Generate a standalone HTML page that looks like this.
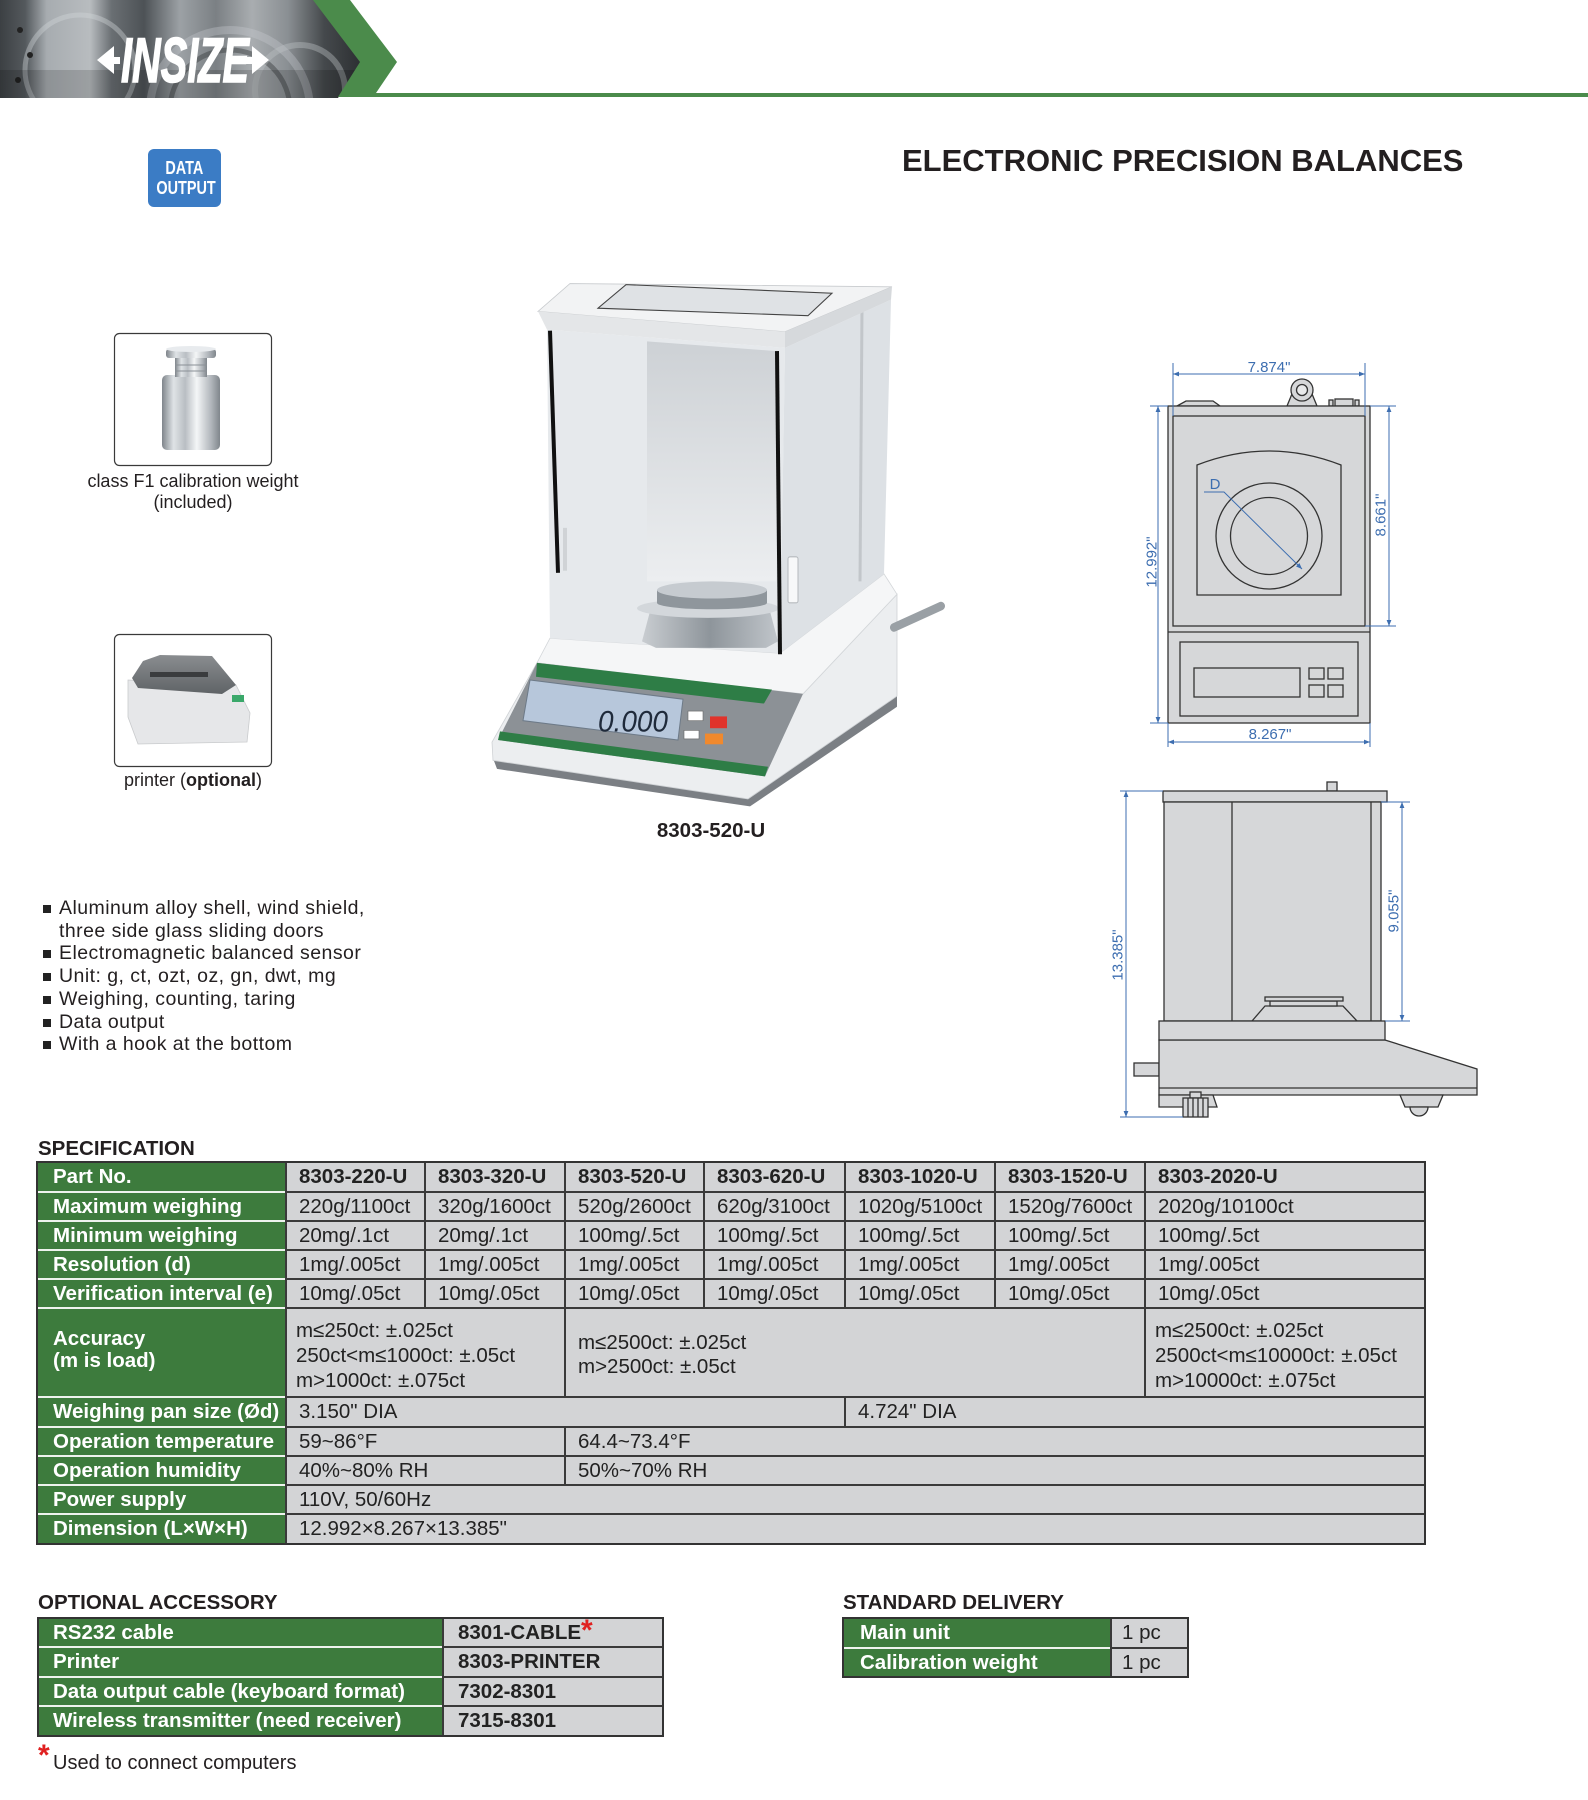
<!DOCTYPE html>
<html><head><meta charset="utf-8">
<style>
html,body{margin:0;padding:0;background:#fff}
body{width:1588px;height:1800px;position:relative;overflow:hidden;font-family:"Liberation Sans",Arial,sans-serif;color:#231f20}
.t{position:absolute;white-space:nowrap}
.g{position:absolute;white-space:nowrap;color:#fff;font-weight:bold;font-size:20.5px}
.c{position:absolute;white-space:nowrap;color:#222;font-size:20.5px}
.b{font-weight:bold}
.hl{position:absolute;height:2px;background:#3a3a3a}
.wl{position:absolute;height:2px;background:#eef3ee}
.vl{position:absolute;width:2px;background:#3a3a3a}
.sq{position:absolute;left:43px;width:8px;height:8px;background:#222}
.bl{position:absolute;left:59px;font-size:19.5px;letter-spacing:.45px;line-height:22.7px;white-space:nowrap;color:#231f20}
</style></head><body>

<svg width="1588" height="1800" style="position:absolute;left:0;top:0" xmlns="http://www.w3.org/2000/svg">
<defs>
<marker id="ar" viewBox="0 0 10 10" refX="10" refY="5" markerWidth="8" markerHeight="6" orient="auto-start-reverse" markerUnits="userSpaceOnUse"><path d="M0,1 L10,5 L0,9 z" fill="#3d6eb0"/></marker>
<clipPath id="ph"><polygon points="0,0 314,0 361,62 338,98 0,98"/></clipPath>
<linearGradient id="bg1" x1="0" y1="0" x2="360" y2="0" gradientUnits="userSpaceOnUse">
<stop offset="0" stop-color="#3c4043"/><stop offset="0.07" stop-color="#54595d"/><stop offset="0.13" stop-color="#a7acb0"/><stop offset="0.25" stop-color="#b8bcbf"/><stop offset="0.31" stop-color="#6a6f73"/><stop offset="0.4" stop-color="#4d5256"/><stop offset="0.5" stop-color="#9ca1a5"/><stop offset="0.6" stop-color="#7b8084"/><stop offset="0.7" stop-color="#a9adb0"/><stop offset="0.8" stop-color="#8a8f93"/><stop offset="0.9" stop-color="#45494c"/><stop offset="1" stop-color="#2d3033"/>
</linearGradient>
<linearGradient id="wg" x1="0" x2="1" y1="0" y2="0">
<stop offset="0" stop-color="#7f858b"/><stop offset="0.2" stop-color="#dfe3e6"/><stop offset="0.4" stop-color="#b9bec3"/><stop offset="0.6" stop-color="#f4f6f7"/><stop offset="0.85" stop-color="#b0b5ba"/><stop offset="1" stop-color="#80868c"/>
</linearGradient>
<linearGradient id="bp" x1="0" y1="0" x2="0" y2="1">
<stop offset="0" stop-color="#cdd1d5"/><stop offset="1" stop-color="#eceef0"/>
</linearGradient>
<linearGradient id="cone" x1="0" x2="1" y1="0" y2="0">
<stop offset="0" stop-color="#c9cdd1"/><stop offset="0.5" stop-color="#8e959b"/><stop offset="1" stop-color="#c0c5ca"/>
</linearGradient>
<linearGradient id="prt" x1="0" x2="0" y1="0" y2="1">
<stop offset="0" stop-color="#8a8d90"/><stop offset="1" stop-color="#5f6366"/>
</linearGradient>
</defs>

<!-- banner -->
<g clip-path="url(#ph)">
<rect x="0" y="0" width="370" height="100" fill="url(#bg1)"/>
<circle cx="80" cy="70" r="55" fill="none" stroke="#d3d6d9" stroke-width="5" opacity=".4"/>
<circle cx="230" cy="110" r="80" fill="none" stroke="#c9ccd0" stroke-width="8" opacity=".35"/>
<circle cx="230" cy="110" r="60" fill="none" stroke="#3f4346" stroke-width="5" opacity=".5"/>
<circle cx="300" cy="90" r="45" fill="none" stroke="#bfc3c6" stroke-width="6" opacity=".4"/>
<circle cx="20" cy="30" r="3" fill="#222"/><circle cx="30" cy="55" r="3" fill="#222"/><circle cx="18" cy="80" r="3" fill="#222"/>
<rect x="0" y="70" width="370" height="30" fill="#000" opacity=".15"/>
</g>
<polygon points="313,0 350,0 397,62 376,93 1588,93 1588,97 338,97 360,62" fill="#4b8b4b"/>
<!-- logo -->
<text x="121" y="82" textLength="128" lengthAdjust="spacingAndGlyphs" font-family="Liberation Sans, Arial, sans-serif" font-size="63" font-weight="bold" font-style="italic" fill="#fff" stroke="#fff" stroke-width="1.5">INSIZE</text>
<polygon points="97,60 114,46 114,74" fill="#fff"/>
<rect x="112" y="57" width="8" height="7" fill="#fff"/>
<polygon points="269,60 252,46 252,74" fill="#fff"/>
<rect x="246" y="57" width="8" height="7" fill="#fff"/>

<!-- weight box -->
<rect x="114.5" y="333.5" width="157" height="132" rx="5" fill="#fff" stroke="#3a3a3a" stroke-width="1.2"/>
<rect x="162" y="375" width="58" height="75" rx="5" fill="url(#wg)"/>
<rect x="175" y="358" width="32" height="19" fill="url(#wg)"/>
<line x1="175" y1="365" x2="207" y2="365" stroke="#8a9096" stroke-width="1"/>
<line x1="175" y1="371" x2="207" y2="371" stroke="#8a9096" stroke-width="1"/>
<rect x="166" y="349" width="50" height="9" rx="3" fill="url(#wg)"/>
<ellipse cx="191" cy="349" rx="25" ry="3" fill="#e8ebee"/>

<!-- printer box -->
<rect x="114.5" y="634.5" width="157" height="132" rx="5" fill="#fff" stroke="#3a3a3a" stroke-width="1.2"/>
<polygon points="128,680 236,685 250,713 247,742 138,744 128,717" fill="#e6e7e9" stroke="#c9cbcd" stroke-width=".8"/>
<polygon points="132,678 143,661 160,655 212,656 236,685 222,694 138,688" fill="url(#prt)"/>
<rect x="150" y="672" width="58" height="5" fill="#3a3c3e"/>
<rect x="232" y="695" width="12" height="7" fill="#3aa86a"/>

<!-- product -->
<g transform="translate(0,260) scale(1,1.0714) translate(0,-260)">
<polygon points="493,725 748,761 897,666 897,677 750,770 497,735" fill="#7b7f84"/>
<polygon points="537,636 803,665 897,572 897,667 748,763 493,727 492,710" fill="#eceef0" stroke="#cfd2d5" stroke-width=".8"/>
<polygon points="550,613 780,627 884,553 897,572 803,665 537,636" fill="#f5f6f7" stroke="#d3d6d9" stroke-width=".8"/>
<polygon points="547,325 785,342 780,627 550,613" fill="#e6e9ec"/>
<polygon points="647,336 776,345 776,560 647,560" fill="url(#bp)"/>
<polygon points="785,342 891,297 884,553 780,627" fill="#dde1e5"/>
<line x1="862" y1="306" x2="860" y2="560" stroke="#c2c6ca" stroke-width="3"/>
<polygon points="650,588 770,588 778,616 766,622 656,622 642,616" fill="url(#cone)"/>
<ellipse cx="708" cy="585" rx="71" ry="9" fill="#d3d7db"/>
<rect x="657" y="568" width="110" height="12" fill="#8f969c"/>
<ellipse cx="712" cy="580" rx="55" ry="6" fill="#8f969c"/>
<ellipse cx="712" cy="568" rx="55" ry="8" fill="#c6cbd0"/>
<line x1="550" y1="326" x2="558" y2="552" stroke="#111" stroke-width="4"/>
<line x1="777" y1="345" x2="780" y2="628" stroke="#111" stroke-width="4"/>
<rect x="788" y="537" width="10" height="43" rx="2" fill="#f7f8f9" stroke="#b5b9bd" stroke-width="1"/>
<rect x="563" y="510" width="4" height="40" fill="#d0d3d6"/>
<!-- lid -->
<polygon points="538,308 570,282 892,285 785,327" fill="#f2f3f4" stroke="#c8cbce" stroke-width=".8"/>
<polygon points="598,305 626,283 832,291 808,312" fill="#dfe2e5" stroke="#444" stroke-width="1"/>
<polygon points="538,308 785,327 785,342 547,325" fill="#e4e6e8"/>
<polygon points="785,327 892,285 891,297 785,342" fill="#d6d9dc"/>
<!-- control panel -->
<polygon points="537,636 803,665 765,742 498,708" fill="#8c9196"/>
<polygon points="537,636 772,661 764,674 536,649" fill="#2e7d46"/>
<polygon points="500,700 768,733 765,742 498,708" fill="#2e7d46"/>
<polygon points="530,652 683,670 678,708 523,690" fill="#b7c7db" stroke="#6d7a88" stroke-width="1"/>
<text x="598" y="700" textLength="70" lengthAdjust="spacingAndGlyphs" font-family="Liberation Sans, Arial, sans-serif" font-size="28" font-style="italic" fill="#1f2a3a">0.000</text>
<rect x="688" y="681" width="15" height="9" fill="#fff" stroke="#666" stroke-width=".6"/>
<rect x="710" y="686" width="17" height="11" fill="#e0332b"/>
<rect x="684" y="699" width="15" height="8" fill="#fff" stroke="#666" stroke-width=".6"/>
<rect x="705" y="702" width="18" height="10" fill="#f0892d"/>
<line x1="894" y1="603" x2="941" y2="583" stroke="#9aa0a5" stroke-width="8" stroke-linecap="round"/>
</g>

<!-- top view drawing -->
<g stroke="#333" stroke-width="1.3" fill="#d6d7d9">
<path d="M1177,406 L1186,401 L1213,401 L1220,406 Z"/>
<polygon points="1287,406 1294,389 1310,389 1317,406"/>
<circle cx="1302" cy="390" r="11"/>
<circle cx="1302" cy="390" r="5.5" fill="#e8e9ea"/>
<rect x="1329" y="400" width="4" height="6"/>
<rect x="1335" y="399" width="18" height="7"/>
<rect x="1355" y="400" width="4" height="6"/>
<rect x="1168" y="406" width="202" height="317"/>
<rect x="1173" y="416" width="192" height="210" fill="none"/>
<line x1="1168" y1="632" x2="1370" y2="632"/>
<rect x="1180" y="642" width="178" height="74" fill="none"/>
<rect x="1194" y="668" width="106" height="29" fill="none"/>
<rect x="1309" y="668" width="15" height="11" fill="none"/>
<rect x="1328" y="668" width="15" height="11" fill="none"/>
<rect x="1309" y="685" width="15" height="12" fill="none"/>
<rect x="1328" y="685" width="15" height="12" fill="none"/>
<path d="M1197,595 L1197,465 Q1269,437 1341,465 L1341,595 Z" fill="none"/>
<circle cx="1269" cy="536" r="53" fill="none"/>
<circle cx="1269" cy="536" r="38.5" fill="none"/>
</g>
<g stroke="#3d6eb0" stroke-width="1" fill="none">
<polyline points="1204,492 1224,492 1302,569" marker-end="url(#ar)"/>
<line x1="1173" y1="363" x2="1173" y2="416"/>
<line x1="1365" y1="363" x2="1365" y2="416"/>
<line x1="1173" y1="374" x2="1365" y2="374" marker-start="url(#ar)" marker-end="url(#ar)"/>
<line x1="1150" y1="406" x2="1168" y2="406"/>
<line x1="1150" y1="723" x2="1168" y2="723"/>
<line x1="1158" y1="406" x2="1158" y2="723" marker-start="url(#ar)" marker-end="url(#ar)"/>
<line x1="1370" y1="406" x2="1396" y2="406"/>
<line x1="1365" y1="626" x2="1396" y2="626"/>
<line x1="1389" y1="406" x2="1389" y2="626" marker-start="url(#ar)" marker-end="url(#ar)"/>
<line x1="1168" y1="723" x2="1168" y2="747"/>
<line x1="1370" y1="723" x2="1370" y2="747"/>
<line x1="1168" y1="742" x2="1370" y2="742" marker-start="url(#ar)" marker-end="url(#ar)"/>
</g>
<g font-family="Liberation Sans, Arial, sans-serif" font-size="15" fill="#3d6eb0" text-anchor="middle">
<text x="1215" y="489">D</text>
<text x="1269" y="372">7.874"</text>
<text x="1270" y="739">8.267"</text>
<text transform="translate(1151,562) rotate(-90)" y="5.4">12.992"</text>
<text transform="translate(1380,515) rotate(-90)" y="5.4">8.661"</text>
<text transform="translate(1117,955) rotate(-90)" y="5.4">13.385"</text>
<text transform="translate(1393,911) rotate(-90)" y="5.4">9.055"</text>
</g>

<!-- side view drawing -->
<g stroke="#333" stroke-width="1.3" fill="#d6d7d9">
<rect x="1327" y="782" width="10" height="9"/>
<rect x="1163" y="791" width="224" height="11"/>
<rect x="1164" y="802" width="217" height="219"/>
<line x1="1232" y1="802" x2="1232" y2="1021"/>
<line x1="1371" y1="802" x2="1371" y2="1021"/>
<polygon points="1252,1021 1265,1006 1343,1006 1357,1021"/>
<rect x="1270" y="1001" width="67" height="5"/>
<rect x="1265" y="997" width="78" height="4"/>
<rect x="1134" y="1063" width="25" height="13"/>
<polygon points="1159,1040 1385,1040 1477,1069 1477,1095 1159,1095"/>
<rect x="1159" y="1021" width="226" height="19"/>
<line x1="1159" y1="1088" x2="1477" y2="1088"/>
<polygon points="1159,1095 1213,1095 1217,1107 1159,1107"/>
<polygon points="1400,1095 1443,1095 1438,1107 1405,1107"/>
<path d="M1410,1107 A9,9 0 0 0 1428,1107 Z"/>
<rect x="1190" y="1092" width="11" height="6"/>
<rect x="1183" y="1098" width="25" height="19"/>
<line x1="1188" y1="1098" x2="1188" y2="1117"/><line x1="1193" y1="1098" x2="1193" y2="1117"/><line x1="1198" y1="1098" x2="1198" y2="1117"/><line x1="1203" y1="1098" x2="1203" y2="1117"/>
</g>
<g stroke="#3d6eb0" stroke-width="1" fill="none">
<line x1="1120" y1="791" x2="1163" y2="791"/>
<line x1="1120" y1="1117" x2="1183" y2="1117"/>
<line x1="1126" y1="791" x2="1126" y2="1117" marker-start="url(#ar)" marker-end="url(#ar)"/>
<line x1="1381" y1="802" x2="1410" y2="802"/>
<line x1="1385" y1="1021" x2="1410" y2="1021"/>
<line x1="1402" y1="802" x2="1402" y2="1021" marker-start="url(#ar)" marker-end="url(#ar)"/>
</g>
</svg>

<!-- header texts -->
<div style="position:absolute;left:148px;top:149px;width:73px;height:58px;background:#3b7cc5;border-radius:6px"></div>
<div class="t b" style="left:148px;width:73px;text-align:center;top:157px;font-size:18.5px;line-height:22px;color:#fff"><span style="display:inline-block;transform:scaleX(.78)">DATA</span></div>
<div class="t b" style="left:148px;width:73px;text-align:center;top:177px;font-size:18.5px;line-height:22px;color:#fff"><span style="display:inline-block;transform:scaleX(.78)">OUTPUT</span></div>
<div class="t b" style="left:902px;top:143px;font-size:31px;line-height:36px;color:#231f20">ELECTRONIC PRECISION BALANCES</div>

<div class="t" style="left:63px;width:260px;text-align:center;top:471px;font-size:18px;line-height:21px">class F1 calibration weight</div>
<div class="t" style="left:63px;width:260px;text-align:center;top:492px;font-size:18px;line-height:21px">(included)</div>
<div class="t" style="left:63px;width:260px;text-align:center;top:770px;font-size:18px;line-height:21px">printer (<b>optional</b>)</div>
<div class="t b" style="left:611px;width:200px;text-align:center;top:819px;font-size:20.5px;line-height:24px">8303-520-U</div>

<!-- bullets -->
<div class="sq" style="top:905px"></div>
<div class="bl" style="top:897px">Aluminum alloy shell, wind shield,</div>
<div class="bl" style="top:919.7px">three side glass sliding doors</div>
<div class="sq" style="top:950.4px"></div>
<div class="bl" style="top:942.4px">Electromagnetic balanced sensor</div>
<div class="sq" style="top:973.1px"></div>
<div class="bl" style="top:965.1px">Unit: g, ct, ozt, oz, gn, dwt, mg</div>
<div class="sq" style="top:995.8px"></div>
<div class="bl" style="top:987.8px">Weighing, counting, taring</div>
<div class="sq" style="top:1018.5px"></div>
<div class="bl" style="top:1010.5px">Data output</div>
<div class="sq" style="top:1041.2px"></div>
<div class="bl" style="top:1033.2px">With a hook at the bottom</div>

<!-- SPECIFICATION -->
<div class="t b" style="left:38px;top:1137px;font-size:20.5px;line-height:24px">SPECIFICATION</div>
<div style="position:absolute;left:37px;top:1162px;width:249px;height:382px;background:#3d7b3d"></div>
<div style="position:absolute;left:286px;top:1162px;width:1139px;height:382px;background:#d3d4d6"></div>
<div class="wl" style="left:37px;width:249px;top:1191px"></div>
<div class="wl" style="left:37px;width:249px;top:1220px"></div>
<div class="wl" style="left:37px;width:249px;top:1249px"></div>
<div class="wl" style="left:37px;width:249px;top:1278px"></div>
<div class="wl" style="left:37px;width:249px;top:1307px"></div>
<div class="wl" style="left:37px;width:249px;top:1396px"></div>
<div class="wl" style="left:37px;width:249px;top:1426px"></div>
<div class="wl" style="left:37px;width:249px;top:1455px"></div>
<div class="wl" style="left:37px;width:249px;top:1484px"></div>
<div class="wl" style="left:37px;width:249px;top:1513px"></div>
<div class="hl" style="left:286px;width:1139px;top:1191px"></div>
<div class="hl" style="left:286px;width:1139px;top:1220px"></div>
<div class="hl" style="left:286px;width:1139px;top:1249px"></div>
<div class="hl" style="left:286px;width:1139px;top:1278px"></div>
<div class="hl" style="left:286px;width:1139px;top:1307px"></div>
<div class="hl" style="left:286px;width:1139px;top:1396px"></div>
<div class="hl" style="left:286px;width:1139px;top:1426px"></div>
<div class="hl" style="left:286px;width:1139px;top:1455px"></div>
<div class="hl" style="left:286px;width:1139px;top:1484px"></div>
<div class="hl" style="left:286px;width:1139px;top:1513px"></div>
<div class="vl" style="left:285px;top:1162px;height:382px"></div>
<div class="vl" style="left:424px;top:1162px;height:146px"></div>
<div class="vl" style="left:564px;top:1162px;height:146px"></div>
<div class="vl" style="left:703px;top:1162px;height:146px"></div>
<div class="vl" style="left:844px;top:1162px;height:146px"></div>
<div class="vl" style="left:994px;top:1162px;height:146px"></div>
<div class="vl" style="left:1144px;top:1162px;height:146px"></div>
<div class="vl" style="left:564px;top:1308px;height:89px"></div>
<div class="vl" style="left:1144px;top:1308px;height:89px"></div>
<div class="vl" style="left:844px;top:1397px;height:30px"></div>
<div class="vl" style="left:564px;top:1427px;height:58px"></div>
<div style="position:absolute;left:36px;top:1161px;width:1390px;height:384px;border:2px solid #333;box-sizing:border-box"></div>

<div class="g" style="left:53px;top:1162px;line-height:30px">Part No.</div>
<div class="g" style="left:53px;top:1192px;line-height:29px">Maximum weighing</div>
<div class="g" style="left:53px;top:1221px;line-height:29px">Minimum weighing</div>
<div class="g" style="left:53px;top:1250px;line-height:29px">Resolution (d)</div>
<div class="g" style="left:53px;top:1279px;line-height:29px">Verification interval (e)</div>
<div class="g" style="left:53px;top:1328px;line-height:22px">Accuracy<br>(m is load)</div>
<div class="g" style="left:53px;top:1397px;line-height:30px">Weighing pan size (Ød)</div>
<div class="g" style="left:53px;top:1427px;line-height:29px">Operation temperature</div>
<div class="g" style="left:53px;top:1456px;line-height:29px">Operation humidity</div>
<div class="g" style="left:53px;top:1485px;line-height:29px">Power supply</div>
<div class="g" style="left:53px;top:1514px;line-height:30px">Dimension (L×W×H)</div>

<div class="c b" style="left:299px;top:1162px;line-height:30px">8303-220-U</div>
<div class="c b" style="left:438px;top:1162px;line-height:30px">8303-320-U</div>
<div class="c b" style="left:578px;top:1162px;line-height:30px">8303-520-U</div>
<div class="c b" style="left:717px;top:1162px;line-height:30px">8303-620-U</div>
<div class="c b" style="left:858px;top:1162px;line-height:30px">8303-1020-U</div>
<div class="c b" style="left:1008px;top:1162px;line-height:30px">8303-1520-U</div>
<div class="c b" style="left:1158px;top:1162px;line-height:30px">8303-2020-U</div>

<div class="c" style="left:299px;top:1192px;line-height:29px">220g/1100ct</div>
<div class="c" style="left:438px;top:1192px;line-height:29px">320g/1600ct</div>
<div class="c" style="left:578px;top:1192px;line-height:29px">520g/2600ct</div>
<div class="c" style="left:717px;top:1192px;line-height:29px">620g/3100ct</div>
<div class="c" style="left:858px;top:1192px;line-height:29px">1020g/5100ct</div>
<div class="c" style="left:1008px;top:1192px;line-height:29px">1520g/7600ct</div>
<div class="c" style="left:1158px;top:1192px;line-height:29px">2020g/10100ct</div>

<div class="c" style="left:299px;top:1221px;line-height:29px">20mg/.1ct</div>
<div class="c" style="left:438px;top:1221px;line-height:29px">20mg/.1ct</div>
<div class="c" style="left:578px;top:1221px;line-height:29px">100mg/.5ct</div>
<div class="c" style="left:717px;top:1221px;line-height:29px">100mg/.5ct</div>
<div class="c" style="left:858px;top:1221px;line-height:29px">100mg/.5ct</div>
<div class="c" style="left:1008px;top:1221px;line-height:29px">100mg/.5ct</div>
<div class="c" style="left:1158px;top:1221px;line-height:29px">100mg/.5ct</div>

<div class="c" style="left:299px;top:1250px;line-height:29px">1mg/.005ct</div>
<div class="c" style="left:438px;top:1250px;line-height:29px">1mg/.005ct</div>
<div class="c" style="left:578px;top:1250px;line-height:29px">1mg/.005ct</div>
<div class="c" style="left:717px;top:1250px;line-height:29px">1mg/.005ct</div>
<div class="c" style="left:858px;top:1250px;line-height:29px">1mg/.005ct</div>
<div class="c" style="left:1008px;top:1250px;line-height:29px">1mg/.005ct</div>
<div class="c" style="left:1158px;top:1250px;line-height:29px">1mg/.005ct</div>

<div class="c" style="left:299px;top:1279px;line-height:29px">10mg/.05ct</div>
<div class="c" style="left:438px;top:1279px;line-height:29px">10mg/.05ct</div>
<div class="c" style="left:578px;top:1279px;line-height:29px">10mg/.05ct</div>
<div class="c" style="left:717px;top:1279px;line-height:29px">10mg/.05ct</div>
<div class="c" style="left:858px;top:1279px;line-height:29px">10mg/.05ct</div>
<div class="c" style="left:1008px;top:1279px;line-height:29px">10mg/.05ct</div>
<div class="c" style="left:1158px;top:1279px;line-height:29px">10mg/.05ct</div>

<div class="c" style="left:296px;top:1318px;line-height:25px">m≤250ct: ±.025ct<br>250ct&lt;m≤1000ct: ±.05ct<br>m&gt;1000ct: ±.075ct</div>
<div class="c" style="left:578px;top:1331px;line-height:24px">m≤2500ct: ±.025ct<br>m&gt;2500ct: ±.05ct</div>
<div class="c" style="left:1155px;top:1318px;line-height:25px">m≤2500ct: ±.025ct<br>2500ct&lt;m≤10000ct: ±.05ct<br>m&gt;10000ct: ±.075ct</div>

<div class="c" style="left:299px;top:1397px;line-height:30px">3.150" DIA</div>
<div class="c" style="left:858px;top:1397px;line-height:30px">4.724" DIA</div>
<div class="c" style="left:299px;top:1427px;line-height:29px">59~86°F</div>
<div class="c" style="left:578px;top:1427px;line-height:29px">64.4~73.4°F</div>
<div class="c" style="left:299px;top:1456px;line-height:29px">40%~80% RH</div>
<div class="c" style="left:578px;top:1456px;line-height:29px">50%~70% RH</div>
<div class="c" style="left:299px;top:1485px;line-height:29px">110V, 50/60Hz</div>
<div class="c" style="left:299px;top:1514px;line-height:30px">12.992×8.267×13.385"</div>

<!-- OPTIONAL ACCESSORY -->
<div class="t b" style="left:38px;top:1591px;font-size:20.5px;line-height:24px">OPTIONAL ACCESSORY</div>
<div style="position:absolute;left:38px;top:1618px;width:405px;height:118px;background:#3d7b3d"></div>
<div style="position:absolute;left:443px;top:1618px;width:220px;height:118px;background:#d3d4d6"></div>
<div class="wl" style="left:38px;width:405px;top:1646px"></div>
<div class="wl" style="left:38px;width:405px;top:1676px"></div>
<div class="wl" style="left:38px;width:405px;top:1705px"></div>
<div class="hl" style="left:443px;width:220px;top:1646px"></div>
<div class="hl" style="left:443px;width:220px;top:1676px"></div>
<div class="hl" style="left:443px;width:220px;top:1705px"></div>
<div class="vl" style="left:442px;top:1618px;height:118px"></div>
<div style="position:absolute;left:37px;top:1617px;width:627px;height:120px;border:2px solid #333;box-sizing:border-box"></div>
<div class="g" style="left:53px;top:1618px;line-height:29px">RS232 cable</div>
<div class="g" style="left:53px;top:1647px;line-height:30px">Printer</div>
<div class="g" style="left:53px;top:1677px;line-height:29px">Data output cable (keyboard format)</div>
<div class="g" style="left:53px;top:1706px;line-height:30px">Wireless transmitter (need receiver)</div>
<div class="c b" style="left:458px;top:1618px;line-height:29px">8301-CABLE</div>
<div class="t b" style="left:581px;top:1616px;font-size:30px;line-height:30px;color:#e02020">*</div>
<div class="c b" style="left:458px;top:1647px;line-height:30px">8303-PRINTER</div>
<div class="c b" style="left:458px;top:1677px;line-height:29px">7302-8301</div>
<div class="c b" style="left:458px;top:1706px;line-height:30px">7315-8301</div>
<div class="t b" style="left:38px;top:1741px;font-size:30px;line-height:30px;color:#e02020">*</div>
<div class="t" style="left:53px;top:1752px;font-size:20px;line-height:23px">Used to connect computers</div>

<!-- STANDARD DELIVERY -->
<div class="t b" style="left:843px;top:1591px;font-size:20.5px;line-height:24px">STANDARD DELIVERY</div>
<div style="position:absolute;left:843px;top:1618px;width:268px;height:59px;background:#3d7b3d"></div>
<div style="position:absolute;left:1111px;top:1618px;width:77px;height:59px;background:#d3d4d6"></div>
<div class="wl" style="left:843px;width:268px;top:1647px"></div>
<div class="hl" style="left:1111px;width:77px;top:1647px"></div>
<div class="vl" style="left:1110px;top:1618px;height:59px"></div>
<div style="position:absolute;left:842px;top:1617px;width:347px;height:61px;border:2px solid #333;box-sizing:border-box"></div>
<div class="g" style="left:860px;top:1618px;line-height:30px">Main unit</div>
<div class="g" style="left:860px;top:1648px;line-height:29px">Calibration weight</div>
<div class="c" style="left:1122px;top:1618px;line-height:30px">1 pc</div>
<div class="c" style="left:1122px;top:1648px;line-height:29px">1 pc</div>

</body></html>
